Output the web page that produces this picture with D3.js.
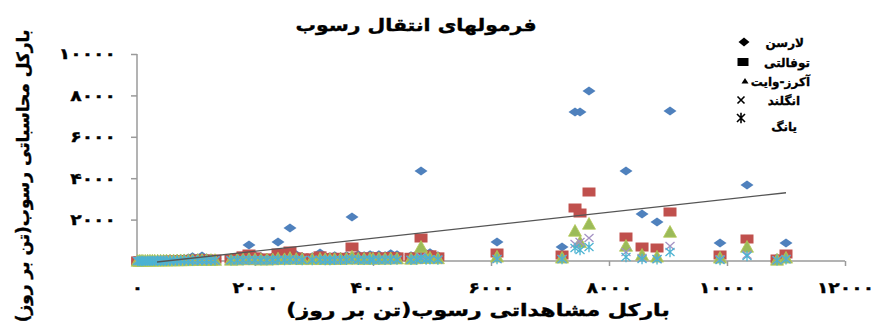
<!DOCTYPE html>
<html>
<head>
<meta charset="utf-8">
<script src="https://cdn.jsdelivr.net/npm/d3@7"></script>
<style>
  html, body { margin: 0; padding: 0; background: #fff; }
  svg { display: block; }
  text { font-family: "DejaVu Sans", sans-serif; font-weight: bold; fill: #000; }
</style>
</head>
<body>
<svg id="chart" width="873" height="329"></svg>
<script>
// Observed total sediment load (ton/day)
const observed = [10, 40, 70, 100, 140, 180, 220, 260, 300, 350, 400, 450, 500, 560, 620,
  680, 740, 800, 870, 940, 1030, 1102, 1180, 1254, 1322, 1593, 1700, 1797, 1898, 2000,
  2100, 2203, 2300, 2390, 2500, 2593, 2700, 2800, 2970, 3102, 3190, 3270, 3350, 3450,
  3550, 3644, 3750, 3850, 3950, 4000, 4100, 4204, 4300, 4407, 4644, 4740, 4814, 4900,
  4966, 5100, 6102, 7204, 7424, 7509, 7661, 8288, 8560, 8814, 9034, 9882, 10339, 10848,
  11000];
// Load computed by each formula for the same observations (ton/day)
const larsen = [5, 10, 15, 20, 25, 30, 35, 40, 45, 50, 55, 60, 70, 80, 90,
  100, 110, 120, 150, 200, 150, 242, 150, 130, 120, 150, 200, 250, 773, 250,
  200, 150, 200, 917, 250, 1594, 300, 200, 200, 386, 200, 200, 250, 200,
  250, 2125, 300, 250, 300, 250, 300, 250, 350, 300, 250, 300, 4347, 350,
  400, 250, 917, 676, 7197, 7197, 8210, 4347, 2270, 1882, 7245, 869, 3671, 150,
  869];
const toffaleti = [3, 5, 8, 10, 12, 15, 18, 20, 22, 25, 28, 30, 35, 40, 45,
  50, 55, 60, 70, 80, 90, 100, 90, 80, 90, 100, 150, 250, 338, 200,
  150, 120, 150, 386, 200, 483, 200, 150, 150, 250, 150, 150, 180, 150,
  180, 676, 200, 180, 200, 180, 200, 180, 220, 200, 180, 200, 1111, 250,
  300, 200, 386, 290, 2560, 2318, 3333, 1159, 676, 628, 2367, 290, 1063, 97,
  338];
const ackersWhite = [0, 2, 3, 5, 6, 8, 9, 10, 12, 13, 15, 16, 18, 20, 22,
  24, 26, 28, 30, 35, 40, 45, 40, 40, 40, 50, 60, 70, 90, 70,
  60, 60, 70, 110, 80, 140, 90, 80, 80, 100, 80, 80, 90, 90,
  100, 200, 100, 100, 110, 100, 110, 100, 120, 110, 100, 120, 676, 130,
  150, 120, 200, 150, 1449, 900, 1787, 724, 290, 200, 1400, 150, 676, 50,
  150];
const england = [0, 1, 2, 3, 4, 5, 6, 7, 8, 9, 10, 11, 12, 13, 14,
  15, 16, 18, 20, 22, 25, 28, 25, 25, 25, 30, 35, 40, 50, 40,
  35, 35, 40, 55, 45, 70, 50, 45, 45, 55, 45, 45, 50, 50,
  55, 100, 55, 55, 60, 55, 60, 55, 65, 60, 55, 65, 200, 70,
  80, 65, 100, 100, 820, 917, 1111, 435, 150, 100, 724, 80, 300, 40,
  100];
const young = [0, 1, 2, 3, 4, 5, 6, 7, 8, 9, 10, 12, 13, 15, 16,
  18, 20, 22, 24, 25, 30, 32, 30, 30, 30, 35, 40, 45, 55, 45,
  40, 40, 45, 60, 50, 75, 55, 50, 50, 60, 50, 50, 55, 55,
  60, 90, 60, 60, 65, 60, 65, 60, 70, 65, 60, 70, 150, 75,
  80, 70, 90, 90, 628, 531, 676, 193, 100, 80, 435, 50, 242, 30,
  80];

const seriesNames = ["لارسن", "توفالتی", "آکرز-وایت", "انگلند", "یانگ"];
const xTickValues = [0, 2000, 4000, 6000, 8000, 10000, 12000];
const xTickLabels = ["۰", "۲۰۰۰", "۴۰۰۰", "۶۰۰۰", "۸۰۰۰", "۱۰۰۰۰", "۱۲۰۰۰"];
const yTickValues = [2000, 4000, 6000, 8000, 10000];
const yTickLabels = ["۲۰۰۰", "۴۰۰۰", "۶۰۰۰", "۸۰۰۰", "۱۰۰۰۰"];
// Linear trend line (y = slope * x + intercept) and its x extent
const trendSlope = 0.314;
const trendIntercept = -156;
const trendExtent = [339, 11000];

const chartTitle = "فرمولهای انتقال رسوب";
const xTitle = "بارکل مشاهداتی رسوب(تن بر روز)";
const yTitle = "بارکل محاسباتی رسوب(تن بر روز)";

const svg = d3.select("#chart");
const plot = { left: 137, right: 845, top: 54, bottom: 261 };

const x = d3.scaleLinear().domain([0, 12000]).range([plot.left, plot.right]);
const y = d3.scaleLinear().domain([0, 10000]).range([plot.bottom, plot.top]);

const axisColor = "#9a9a9a";
const textStretch = 1.25;   // horizontal stretch of the Persian lettering

// Y axis
const yAxis = svg.append("g").attr("transform", `translate(${plot.left},0)`)
  .call(d3.axisLeft(y).tickValues(yTickValues).tickSize(6)
    .tickFormat((d, i) => yTickLabels[i]));
yAxis.select(".domain").attr("stroke", axisColor).attr("stroke-width", 1.5)
  .attr("d", `M0,${y(0)}V${y(10000)}`);
yAxis.selectAll(".tick line").attr("stroke", axisColor).attr("stroke-width", 1.5);
yAxis.selectAll(".tick text").attr("x", 0)
  .attr("transform", `translate(-21,0) scale(${textStretch},1)`)
  .attr("font-size", 15).attr("font-family", "DejaVu Sans")
  .attr("font-weight", "bold").attr("fill", "#000")
  .attr("stroke", "#000").attr("stroke-width", 0.4);

// X axis
const xAxis = svg.append("g").attr("transform", `translate(0,${plot.bottom})`)
  .call(d3.axisBottom(x).tickValues(xTickValues).tickSize(5)
    .tickFormat((d, i) => xTickLabels[i]));
xAxis.select(".domain").attr("stroke", axisColor).attr("stroke-width", 1.5)
  .attr("d", `M${x(0)},0H${x(12000)}`);
xAxis.selectAll(".tick line").attr("stroke", axisColor).attr("stroke-width", 1.5);
xAxis.selectAll(".tick text").attr("y", 0)
  .attr("transform", `translate(0,21) scale(${textStretch},1)`)
  .attr("font-size", 15).attr("font-family", "DejaVu Sans")
  .attr("font-weight", "bold").attr("fill", "#000")
  .attr("stroke", "#000").attr("stroke-width", 0.4);

// Marker shapes (drawn slightly wider than tall)
function diamondPath(w, h) { return `M0,${-h}L${w},0L0,${h}L${-w},0Z`; }
function squarePath(w, h) { return `M${-w},${-h}H${w}V${h}H${-w}Z`; }
function trianglePath(w, h) { return `M0,${-h}L${w},${h * 0.8}L${-w},${h * 0.8}Z`; }
function crossPath(w, h) { return `M${-w},${-h}L${w},${h}M${-w},${h}L${w},${-h}`; }
function starPath(w, h) { return `M${-w},${-h}L${w},${h}M${-w},${h}L${w},${-h}M0,${-h * 1.3}V${h * 1.3}`; }

const series = [
  { values: larsen, path: diamondPath(6.5, 4.5), fill: "#4F81BD", stroke: "none", sw: 0 },
  { values: toffaleti, path: squarePath(6.5, 4.5), fill: "#C0504D", stroke: "none", sw: 0 },
  { values: ackersWhite, path: trianglePath(6.5, 6.5), fill: "#9BBB59", stroke: "#B5C957", sw: 0.8 },
  { values: england, path: crossPath(4.5, 4), fill: "none", stroke: "#A492C4", sw: 1.3 },
  { values: young, path: starPath(4.5, 4), fill: "none", stroke: "#4BB3D2", sw: 1.3 }
];

const marks = svg.append("g");
series.forEach(s => {
  marks.append("g").selectAll("path").data(observed.map((o, i) => [o, s.values[i]]))
    .join("path")
    .attr("transform", d => `translate(${x(d[0])},${y(d[1])})`)
    .attr("d", s.path)
    .attr("fill", s.fill)
    .attr("stroke", s.stroke)
    .attr("stroke-width", s.sw);
});

// Trend line
svg.append("line")
  .attr("x1", x(trendExtent[0])).attr("y1", y(trendSlope * trendExtent[0] + trendIntercept))
  .attr("x2", x(trendExtent[1])).attr("y2", y(trendSlope * trendExtent[1] + trendIntercept))
  .attr("stroke", "#555").attr("stroke-width", 1.4);

// Titles
function stretchedText(px, py, size, str, sx) {
  return svg.append("text")
    .attr("transform", `translate(${px},${py}) scale(${sx},1)`)
    .attr("text-anchor", "middle").attr("direction", "rtl")
    .attr("font-size", size).attr("stroke", "#000").attr("stroke-width", 0.4)
    .text(str);
}
stretchedText(416, 31, 17, chartTitle, 1.2);
stretchedText(478, 316, 17, xTitle, 1.3);
svg.append("text").attr("transform", "translate(29,176) rotate(-90)")
  .attr("text-anchor", "middle").attr("direction", "rtl").attr("font-size", 17)
  .attr("stroke", "#000").attr("stroke-width", 0.4).text(yTitle);

// Legend
const legendMarks = [diamondPath(5.5, 4.5), squarePath(5.5, 4), trianglePath(3.5, 3),
  crossPath(3.5, 3.5), starPath(4, 4)];
const legendMarkerX = [744, 743, 745, 741, 741];
const legendMarkerY = [42, 62, 81, 100, 118];
const legendTextX = [804, 810, 810, 800, 797];
const legendTextY = [47, 67, 86, 105, 131];
const legend = svg.append("g");
seriesNames.forEach((name, i) => {
  const isLine = i >= 3;
  legend.append("path")
    .attr("transform", `translate(${legendMarkerX[i]},${legendMarkerY[i]})`)
    .attr("d", legendMarks[i])
    .attr("fill", isLine ? "none" : "#000")
    .attr("stroke", isLine ? "#000" : "none")
    .attr("stroke-width", 1.6);
  legend.append("text").attr("x", legendTextX[i]).attr("y", legendTextY[i])
    .attr("text-anchor", "end").attr("font-size", 12)
    .attr("stroke", "#000").attr("stroke-width", 0.3).text(name);
});
</script>
</body>
</html>
